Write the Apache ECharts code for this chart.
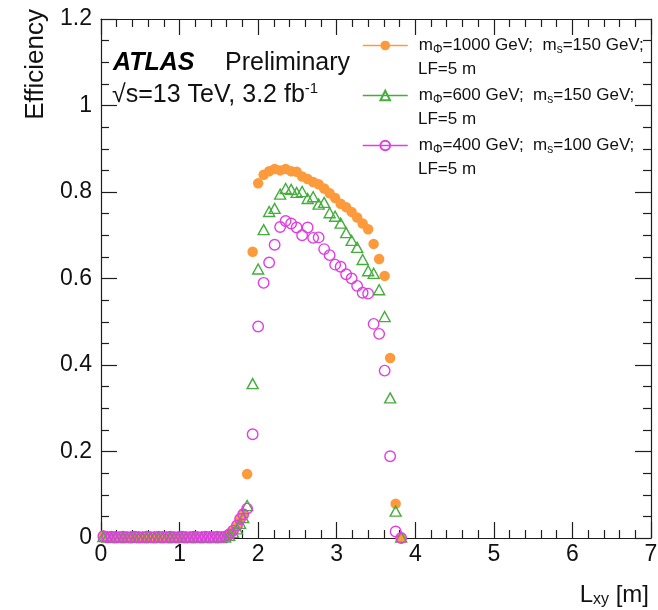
<!DOCTYPE html>
<html>
<head>
<meta charset="utf-8">
<script src="https://cdn.jsdelivr.net/npm/echarts@6/dist/echarts.min.js"></script>
<style>
  html, body { margin: 0; padding: 0; background: #ffffff; }
  #chart { width: 658px; height: 610px; }
</style>
</head>
<body>
<div id="chart"></div>
<script>
// Transverse decay radius of the long-lived scalar, bin positions in metres
const lxy = [
  0.03, 0.08, 0.13, 0.18, 0.23, 0.28, 0.33, 0.38, 0.43, 0.48,
  0.53, 0.58, 0.63, 0.68, 0.73, 0.78, 0.83, 0.88, 0.93, 0.98,
  1.03, 1.08, 1.13, 1.18, 1.23, 1.28, 1.33, 1.38, 1.43, 1.48,
  1.53,
  1.58, 1.63, 1.68, 1.73, 1.77, 1.81,
  1.86, 1.93, 2.00, 2.07, 2.14, 2.21, 2.28, 2.35, 2.42, 2.49,
  2.56, 2.63, 2.70, 2.77, 2.84, 2.91, 2.98, 3.05, 3.12, 3.19,
  3.26, 3.33, 3.40, 3.47, 3.54, 3.61, 3.68, 3.75, 3.82
];

// Trigger efficiency, mPhi = 1000 GeV, ms = 150 GeV
const effM1000 = [
  0.005, 0.003, 0.002, 0.003, 0.002, 0.002, 0.003, 0.002, 0.002, 0.003,
  0.002, 0.002, 0.003, 0.002, 0.002, 0.003, 0.002, 0.002, 0.003, 0.002,
  0.002, 0.003, 0.002, 0.002, 0.003, 0.002, 0.002, 0.003, 0.002, 0.002,
  0.003,
  0.004, 0.009, 0.017, 0.027, 0.043, 0.056,
  0.148, 0.662, 0.820, 0.840, 0.848, 0.853, 0.850, 0.853, 0.848, 0.847,
  0.836, 0.830, 0.823, 0.818, 0.808, 0.797, 0.786, 0.773, 0.765, 0.754,
  0.741, 0.727, 0.714, 0.680, 0.645, 0.606, 0.416, 0.079, 0.000
];

// Trigger efficiency, mPhi = 600 GeV, ms = 150 GeV
const effM600 = [
  0.003, 0.002, 0.001, 0.002, 0.001, 0.002, 0.001, 0.002, 0.001, 0.002,
  0.001, 0.002, 0.001, 0.002, 0.001, 0.002, 0.001, 0.002, 0.001, 0.002,
  0.001, 0.002, 0.001, 0.002, 0.001, 0.002, 0.001, 0.002, 0.001, 0.002,
  0.001,
  0.002, 0.006, 0.013, 0.021, 0.034, 0.047,
  0.075, 0.357, 0.622, 0.713, 0.755, 0.762, 0.795, 0.808, 0.806, 0.799,
  0.801, 0.785, 0.789, 0.772, 0.776, 0.752, 0.744, 0.728, 0.706, 0.688,
  0.672, 0.644, 0.618, 0.612, 0.574, 0.512, 0.324, 0.062, 0.002
];

// Trigger efficiency, mPhi = 400 GeV, ms = 100 GeV
const effM400 = [
  0.004, 0.002, 0.003, 0.002, 0.002, 0.003, 0.002, 0.002, 0.003, 0.002,
  0.002, 0.003, 0.002, 0.002, 0.003, 0.002, 0.002, 0.003, 0.002, 0.002,
  0.003, 0.002, 0.002, 0.003, 0.002, 0.002, 0.003, 0.002, 0.002, 0.003,
  0.002,
  0.003, 0.008, 0.017, 0.029, 0.044, 0.055,
  0.068, 0.240, 0.489, 0.590, 0.637, 0.678, 0.719, 0.733, 0.727, 0.718,
  0.700, 0.718, 0.694, 0.695, 0.668, 0.654, 0.632, 0.627, 0.610, 0.600,
  0.583, 0.567, 0.565, 0.495, 0.472, 0.387, 0.189, 0.015, 0.000
];

// Legend entries: first line of each sample label and its second line
const seriesNames = ['m1000', 'm600', 'm400'];
const legendMain = {
  m1000: '{t|m}{sub|Φ}{t|=1000 GeV;  m}{sub|s}{t|=150 GeV;}',
  m600:  '{t|m}{sub|Φ}{t|=600 GeV;  m}{sub|s}{t|=150 GeV;}',
  m400:  '{t|m}{sub|Φ}{t|=400 GeV;  m}{sub|s}{t|=100 GeV;}'
};
const legendSecond = ['LF=5 m', 'LF=5 m', 'LF=5 m'];

const FONT = '"Liberation Sans", Arial, Helvetica, sans-serif';
const ORANGE = '#fd9a3c';
const GREEN = '#45ad3d';
const MAGENTA = '#e03ee3';
const AXIS = '#1e1e1e';

function points(values) {
  return lxy.map((x, i) => [x, values[i]]);
}

const chart = echarts.init(document.getElementById('chart'), null, { renderer: 'canvas' });

function frameAxis(pos, isX, showLabel) {
  return {
    type: 'value',
    position: pos,
    min: 0,
    max: isX ? 7 : 1.2,
    interval: isX ? 1 : 0.2,
    axisLine: { show: true, onZero: false, lineStyle: { color: AXIS, width: 1.2 } },
    axisTick: { show: true, inside: true, length: 16, lineStyle: { color: AXIS, width: 1.2 } },
    minorTick: { show: true, splitNumber: isX ? 5 : 4, length: 8, lineStyle: { color: AXIS, width: 1.2 } },
    splitLine: { show: false },
    minorSplitLine: { show: false },
    axisLabel: {
      show: showLabel,
      fontSize: 23,
      fontFamily: FONT,
      color: '#111',
      margin: isX ? 5 : 9
    }
  };
}

const baseSeries = {
  type: 'line',
  xAxisIndex: 0,
  yAxisIndex: 0,
  showAllSymbol: true,
  clip: false,
  silent: true,
  animation: false,
  emphasis: { disabled: true }
};

const option = {
  animation: false,
  backgroundColor: '#ffffff',
  grid: {
    left: 101, right: 7, top: 19, bottom: 72,
    containLabel: false,
    outerBoundsMode: 'none'
  },
  xAxis: [frameAxis('bottom', true, true), frameAxis('top', true, false)],
  yAxis: [frameAxis('left', false, true), frameAxis('right', false, false)],
  legend: {
    orient: 'vertical',
    left: 362,
    top: 35,
    padding: 0,
    itemWidth: 45,
    itemHeight: 12,
    itemGap: 29,
    selectedMode: false,
    data: seriesNames,
    lineStyle: { width: 1.5, opacity: 1 },
    formatter: name => legendMain[name],
    textStyle: {
      fontFamily: FONT,
      fontSize: 17,
      color: '#111',
      lineHeight: 21,
      padding: [0, 0, 0, 6],
      rich: {
        t: { fontFamily: FONT, fontSize: 17, color: '#111', lineHeight: 21 },
        sub: { fontFamily: FONT, fontSize: 12, color: '#111', lineHeight: 8, verticalAlign: 'bottom' }
      }
    }
  },
  series: [
    Object.assign({}, baseSeries, {
      name: 'm1000',
      data: points(effM1000),
      symbol: 'circle',
      symbolSize: 10.5,
      z: 3,
      itemStyle: { color: ORANGE, borderWidth: 0 },
      lineStyle: { color: ORANGE, opacity: 0, width: 1.5 }
    }),
    Object.assign({}, baseSeries, {
      name: 'm600',
      data: points(effM600),
      symbol: 'triangle',
      symbolSize: [11, 10],
      z: 4,
      itemStyle: { color: 'rgba(0,0,0,0)', borderColor: GREEN, borderWidth: 1.4 },
      lineStyle: { color: GREEN, opacity: 0, width: 1.5 }
    }),
    Object.assign({}, baseSeries, {
      name: 'm400',
      data: points(effM400),
      symbol: 'circle',
      symbolSize: 10.5,
      z: 5,
      itemStyle: { color: 'rgba(0,0,0,0)', borderColor: MAGENTA, borderWidth: 1.4 },
      lineStyle: { color: MAGENTA, opacity: 0, width: 1.5 }
    })
  ],
  graphic: [
    {
      type: 'text', x: 36, y: 9, rotation: Math.PI / 2,
      style: { text: 'Efficiency', fontFamily: FONT, fontSize: 26, fill: '#111', align: 'right', verticalAlign: 'middle' }
    },
    {
      type: 'text', x: 649, y: 595,
      style: {
        text: '{t|L}{sub|xy}{t| [m]}', align: 'right', verticalAlign: 'middle',
        rich: {
          t: { fontFamily: FONT, fontSize: 24, fill: '#111', lineHeight: 26 },
          sub: { fontFamily: FONT, fontSize: 16, fill: '#111', lineHeight: 10, verticalAlign: 'bottom' }
        }
      }
    },
    {
      type: 'text', x: 113, y: 63,
      style: { text: 'ATLAS', fontFamily: FONT, fontSize: 25, fontWeight: 'bold', fontStyle: 'italic', fill: '#000', verticalAlign: 'middle' }
    },
    {
      type: 'text', x: 225, y: 63,
      style: { text: 'Preliminary', fontFamily: FONT, fontSize: 25, fill: '#111', verticalAlign: 'middle' }
    },
    {
      type: 'text', x: 112, y: 95,
      style: {
        text: '{t|√s=13 TeV, 3.2 fb}{sup|-1}', verticalAlign: 'middle',
        rich: {
          t: { fontFamily: FONT, fontSize: 25, fill: '#111', lineHeight: 28 },
          sup: { fontFamily: FONT, fontSize: 15, fill: '#111', lineHeight: 10, verticalAlign: 'top' }
        }
      }
    }
  ].concat(legendSecond.map((txt, i) => ({
    type: 'text', x: 418, y: 69 + i * 50,
    style: { text: txt, fontFamily: FONT, fontSize: 17, fill: '#111', verticalAlign: 'middle' }
  })))
};

chart.setOption(option);
</script>
</body>
</html>
